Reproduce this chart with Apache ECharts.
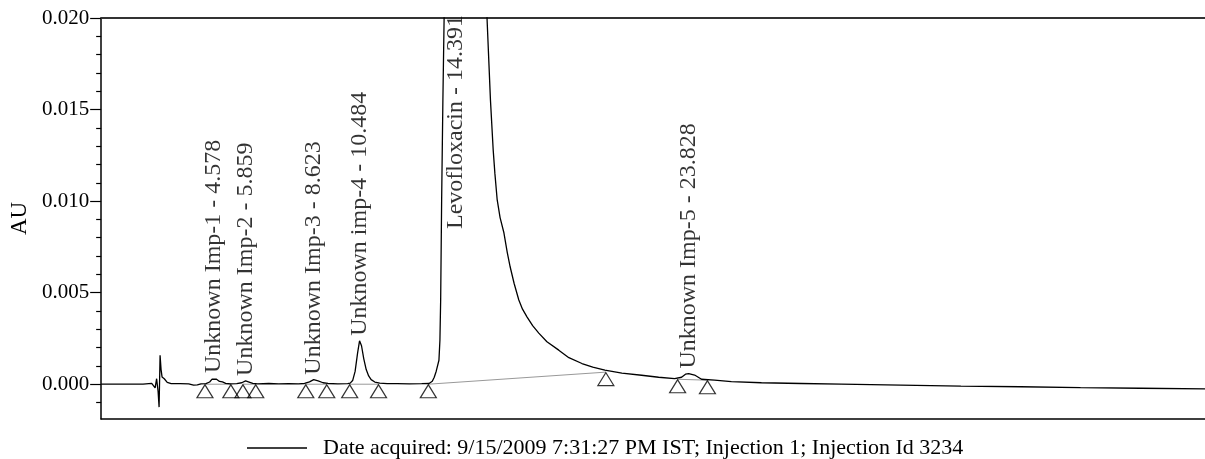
<!DOCTYPE html>
<html>
<head>
<meta charset="utf-8">
<script src="https://cdn.jsdelivr.net/npm/echarts@6/dist/echarts.min.js"></script>
<style>
html,body{margin:0;padding:0;background:#fff;}
#chart{width:1205px;height:459px;}
</style>
</head>
<body>
<div id="chart"></div>
<script>
// ---- data (retention time in minutes, absorbance in AU) ----
const traceTime = [0,1.70,1.72,2.05,2.12,2.19,2.25,2.31,2.35,2.39,2.43,2.47,2.56,2.68,2.84,3.20,3.55,3.75,3.90,4.05,4.25,4.40,4.50,4.58,4.68,4.80,4.92,5.05,5.25,5.50,5.70,5.86,6.00,6.15,6.35,6.80,7.20,7.60,8.00,8.25,8.45,8.62,8.80,9.00,9.20,9.60,10.00,10.10,10.20,10.30,10.40,10.48,10.56,10.65,10.75,10.85,10.95,11.10,11.30,11.60,12.00,12.50,13.00,13.30,13.43,13.51,13.59,13.70,13.74,13.77,13.81,13.86,13.91,14.00,14.20,14.39,14.60,14.90,15.20,15.45,15.65,15.79,15.90,15.97,16.06,16.18,16.33,16.47,16.59,16.75,16.94,17.09,17.27,17.50,17.75,18.08,18.56,18.97,19.50,19.94,20.43,21.12,21.92,22.61,23.26,23.54,23.70,23.83,24.07,24.35,24.88,25.56,26.78,28.39,30.01,32.44,34.87,37.29,39.72,42.14,44.77];
const traceAU = [0,0,0.00005,0.00005,0.00000,-0.00020,0.00030,-0.00040,-0.00125,0.00158,0.00080,0.00040,0.00030,0.00010,0.00003,0.00003,0.00002,-0.00005,-0.00004,0.00002,0.00003,0.00012,0.00028,0.00034,0.00027,0.00015,0.00013,0.00005,0.00002,0.00003,0.00008,0.00018,0.00012,0.00005,0.00002,0.00004,0.00002,0.00003,0.00002,0.00004,0.00013,0.00025,0.00018,0.00008,0.00004,0.00002,0.00003,0.00006,0.00020,0.00070,0.00170,0.00237,0.00210,0.00140,0.00080,0.00045,0.00025,0.00012,0.00006,0.00003,0.00003,0.00002,0.00003,0.00004,0.00016,0.00038,0.00071,0.00131,0.00240,0.00460,0.01010,0.01550,0.02000,0.06000,0.20000,0.32000,0.25000,0.12000,0.05000,0.03000,0.02000,0.01550,0.01280,0.01150,0.01010,0.00910,0.00830,0.00720,0.00640,0.00550,0.00460,0.00410,0.00368,0.00320,0.00279,0.00232,0.00186,0.00145,0.00113,0.00093,0.00077,0.00061,0.00049,0.00038,0.00031,0.00038,0.00055,0.00058,0.00050,0.00027,0.00022,0.00014,0.00008,0.00004,0.00000,-0.00005,-0.00011,-0.00014,-0.00019,-0.00022,-0.00025];

const peakNames = ['Unknown Imp-1 - 4.578','Unknown Imp-2 - 5.859','Unknown Imp-3 - 8.623','Unknown imp-4 - 10.484','Levofloxacin - 14.391','Unknown Imp-5 - 23.828'];
const peakTimes = [4.578,5.859,8.623,10.484,14.391,23.828];

const markTime = [4.21,5.26,5.75,6.27,8.30,9.15,10.08,11.25,13.27,20.47,23.38,24.59];
const markAU   = [0,0,0,0,0,0,0,0,0,0.00066,0.00027,0.00022];

const yTickLabels = [0,0.005,0.010,0.015,0.020];
const yMinorTicks = [-0.001,0.001,0.002,0.003,0.004,0.006,0.007,0.008,0.009,0.011,0.012,0.013,0.014,0.016,0.017,0.018,0.019];

const legendText = 'Date acquired: 9/15/2009 7:31:27 PM IST; Injection 1; Injection Id 3234';

// ---- build ----
const X_MIN = 0, X_MAX = 44.77, Y_MIN = -0.0019, Y_MAX = 0.020;
const FONT = '"Liberation Serif", "Times New Roman", serif';

const traceData = traceTime.map((t,i)=>[t, traceAU[i]]);
const markData = markTime.map((t,i)=>[t, markAU[i]]);

// integration baselines join consecutive mark pairs
const baseData = [];
for (let i=0;i<markTime.length;i+=2){
  baseData.push([markTime[i],markAU[i]],[markTime[i+1],markAU[i+1]],[null,null]);
}

function apexOf(rt){
  let m = -Infinity;
  traceTime.forEach((t,i)=>{ if (Math.abs(t-rt) < 0.2) m = Math.max(m, traceAU[i]); });
  return m;
}
const labelData = peakTimes.map((rt,i)=>{
  const a = apexOf(rt);
  if (a >= Y_MAX) {
    return {name: peakNames[i], value:[rt, Y_MAX], label:{align:'right', offset:[3,0]}};
  }
  return {name: peakNames[i], value:[rt, a], label:{align:'left', offset:[5,0]}};
});

const chart = echarts.init(document.getElementById('chart'), null, {renderer:'canvas'});
chart.setOption({
  animation:false,
  backgroundColor:'#fff',
  grid:{left:97, right:0, top:18, bottom:40, containLabel:false},
  legend:{
    data:[legendText],
    left:242, top:432,
    icon:'rect', itemWidth:60, itemHeight:1.5,
    textStyle:{fontFamily:FONT, fontSize:22, color:'#000', padding:[0,0,0,11]},
    selectedMode:false
  },
  xAxis:[
    {type:'value', min:X_MIN, max:X_MAX, position:'bottom',
     axisLine:{show:true, onZero:false, lineStyle:{color:'#000', width:1.5}},
     axisTick:{show:false}, axisLabel:{show:false}, splitLine:{show:false}},
    {type:'value', min:X_MIN, max:X_MAX, position:'top',
     axisLine:{show:true, onZero:false, lineStyle:{color:'#333', width:1.8}},
     axisTick:{show:false}, axisLabel:{show:false}, splitLine:{show:false}}
  ],
  yAxis:[
    {type:'value', min:Y_MIN, max:Y_MAX, position:'left',
     name:'AU', nameLocation:'middle', nameGap:70, nameRotate:90,
     nameTextStyle:{fontFamily:FONT, fontSize:23, color:'#000'},
     axisLine:{show:true, onZero:false, lineStyle:{color:'#000', width:1.5}},
     axisTick:{show:true, length:11, customValues:yTickLabels, lineStyle:{color:'#000', width:1.2}},
     axisLabel:{show:true, customValues:yTickLabels, margin:12,
       formatter:v=>v.toFixed(3), fontFamily:FONT, fontSize:21, color:'#000'},
     splitLine:{show:false}},
    {type:'value', min:Y_MIN, max:Y_MAX, position:'left',
     axisLine:{show:false, onZero:false},
     axisTick:{show:true, length:5, customValues:yMinorTicks, lineStyle:{color:'#000', width:1.2}},
     axisLabel:{show:false}, splitLine:{show:false}}
  ],
  series:[
    {name:'baseline', type:'line', data:baseData, showSymbol:false, symbol:'none',
     connectNulls:false, lineStyle:{color:'#999', width:1}, silent:true, z:1},
    {name:legendText, type:'line', data:traceData, showSymbol:false, symbol:'none',
     lineStyle:{color:'#000', width:1.3}, itemStyle:{color:'#000'}, clip:true, z:3},
    {name:'marks', type:'scatter', data:markData, symbol:'triangle', symbolSize:[16,13],
     symbolOffset:[0,7], itemStyle:{color:'rgba(0,0,0,0)', borderColor:'#000', borderWidth:1.2}, z:4, clip:false},
    {name:'labels', type:'scatter', data:labelData, symbolSize:0, clip:false, z:5,
     label:{show:true, formatter:'{b}', rotate:90, position:'inside', verticalAlign:'middle',
       fontFamily:FONT, fontSize:24, color:'#000'}}
  ]
});
</script>
</body>
</html>
